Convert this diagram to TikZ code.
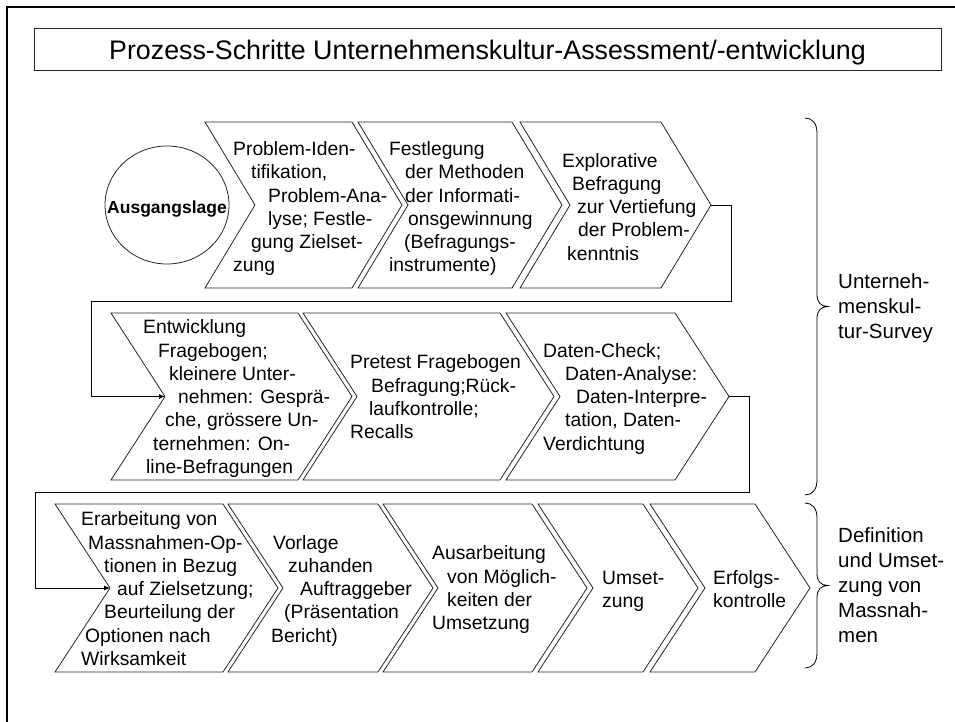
\documentclass[tikz,border=0pt]{standalone}
\usepackage{fontspec}
\setmainfont{Liberation Sans}
\usetikzlibrary{arrows.meta,shapes.geometric}
\newcommand\chl[2]{\strut\hspace*{#1pt}#2}
% name, x left, x right, y top, y bottom, point depth
\newcommand\mkchev[6]{%
  \draw[chevline] (#2,#4) -- (#3,#4) -- ({#3+#6},{(#4+#5)/2}) -- (#3,#5) -- (#2,#5) -- ({#2+#6},{(#4+#5)/2}) -- cycle;
  \coordinate (#1-tip) at ({#3+#6},{(#4+#5)/2});
  \coordinate (#1-notch) at ({#2+#6},{(#4+#5)/2});
}
% name, y top, y bottom
\newcommand\mkbrace[3]{%
  \coordinate (#1-tip) at (828,{(#2+#3)/2});
  \draw[bracel] (805,#2) .. controls (812,#2) and (817,{#2+5}) .. (817,{#2+15})
    -- (817,{(#2+#3)/2-12}) .. controls (817,{(#2+#3)/2-4}) and (821,{(#2+#3)/2}) .. (#1-tip)
    .. controls (821,{(#2+#3)/2}) and (817,{(#2+#3)/2+4}) .. (817,{(#2+#3)/2+12})
    -- (817,{#3-15}) .. controls (817,{#3-5}) and (812,#3) .. (805,#3);
}
\begin{document}
\begin{tikzpicture}[x=1pt,y=-1pt,
  chevline/.style={draw=black!85,line width=0.8pt,line join=miter},
  ctext/.style={anchor=west,inner sep=0pt,align=left,font=\fontsize{19.3}{23.3}\selectfont},
  lbl/.style={anchor=west,inner sep=0pt,align=left,font=\fontsize{20.5}{25}\selectfont},
  conn/.style={draw=black,line width=0.8pt,-{Latex[length=6pt,width=5pt]}},
  bracel/.style={draw=black,line width=0.8pt}]
\useasboundingbox (0,0) rectangle (955,722);
\fill[white] (0,0) rectangle (955,722);
% outer frame (cropped)
\draw[line width=2pt,line join=miter] (7,722) -- (7,7) -- (955,7);
% title
\node[draw=black!85,line width=0.8pt,minimum width=907pt,minimum height=42pt,inner sep=0pt,
  font=\fontsize{26.8}{32}\selectfont,text height=20.6pt,text depth=0pt] (title) at (487.5,49)
  {Prozess-Schritte Unternehmenskultur-Assessment/-entwicklung};
% start ellipse
\node[draw=black!85,line width=0.8pt,ellipse,minimum width=124pt,minimum height=118pt,inner sep=0pt] (start) at (167,205) {};
\node[anchor=base,inner sep=0pt,font=\bfseries\fontsize{17.5}{21}\selectfont] (startt) at (167,213.3) {Ausgangslage};
% row 1
\mkchev{c1}{205}{352}{122}{288}{50}
\mkchev{c2}{358}{512}{122}{288}{50}
\mkchev{c3}{520}{661}{122}{288}{50}
% row 2
\mkchev{c4}{111}{298}{313}{480}{54}
\mkchev{c5}{303}{500}{313}{480}{54}
\mkchev{c6}{506}{675}{313}{480}{54}
% row 3
\mkchev{c7}{55}{223}{504}{672}{55}
\mkchev{c8}{228}{378}{504}{672}{55}
\mkchev{c9}{383}{532}{504}{672}{55}
\mkchev{c10}{538}{643}{504}{672}{55}
\mkchev{c11}{650}{755}{504}{672}{55}
% texts
\node[ctext] (t1) at (233,209) {\chl{0}{Problem-Iden-}\\\chl{18}{tifikation,}\\\chl{35}{Problem-Ana-}\\\chl{35}{lyse; Festle-}\\\chl{18}{gung Zielset-}\\\chl{0}{zung}};
\node[ctext] (t2) at (389,209) {\chl{0}{Festlegung}\\\chl{16}{der Methoden}\\\chl{16}{der Informati-}\\\chl{19}{onsgewinnung}\\\chl{15}{(Befragungs-}\\\chl{0}{instrumente)}};
\node[ctext] (t3) at (562,209) {\chl{0}{Explorative}\\\chl{10}{Befragung}\\\chl{15}{zur Vertiefung}\\\chl{16}{der Problem-}\\\chl{5}{kenntnis}};
\node[ctext] (t4) at (143,399) {\chl{0}{Entwicklung}\\\chl{15}{Fragebogen;}\\\chl{26}{kleinere Unter-}\\\chl{35}{nehmen: Gesprä-}\\\chl{22}{che, grössere Un-}\\\chl{10}{ternehmen: On-}\\\chl{3}{line-Befragungen}};
\node[ctext] (t5) at (350,399) {\chl{0}{Pretest Fragebogen}\\\chl{21}{Befragung;Rück-}\\\chl{19}{laufkontrolle;}\\\chl{0}{Recalls}};
\node[ctext] (t6) at (543,399) {\chl{0}{Daten-Check;}\\\chl{22}{Daten-Analyse:}\\\chl{33}{Daten-Interpre-}\\\chl{22}{tation, Daten-}\\\chl{0}{Verdichtung}};
\node[ctext] (t7) at (81,591) {\chl{0}{Erarbeitung von}\\\chl{7}{Massnahmen-Op-}\\\chl{23}{tionen in Bezug}\\\chl{36}{auf Zielsetzung;}\\\chl{23}{Beurteilung der}\\\chl{4}{Optionen nach}\\\chl{0}{Wirksamkeit}};
\node[ctext] (t8) at (271,591) {\chl{2}{Vorlage}\\\chl{17}{zuhanden}\\\chl{29}{Auftraggeber}\\\chl{13}{(Präsentation}\\\chl{0}{Bericht)}};
\node[ctext] (t9) at (432,590) {\chl{0}{Ausarbeitung}\\\chl{15}{von Möglich-}\\\chl{15}{keiten der}\\\chl{0}{Umsetzung}};
\node[ctext] (t10) at (602,591) {\chl{0}{Umset-}\\\chl{0}{zung}};
\node[ctext] (t11) at (713,591) {\chl{0}{Erfolgs-}\\\chl{0}{kontrolle}};
% loop connectors
\coordinate (b1) at (91,301);
\coordinate (b2) at (35,492);
\draw[conn] (c3-tip) -- ++(20,0) |- (b1) |- (c4-notch);
\draw[conn] (c6-tip) -- ++(20,0) |- (b2) |- (c7-notch);
% braces
\mkbrace{br1}{118}{495}
\mkbrace{br2}{503}{668}
\node[lbl] (s1) at (838,308.5) {\chl{0}{Unterneh-}\\\chl{0}{menskul-}\\\chl{0}{tur-Survey}};
\node[lbl] (s2) at (838,587) {\chl{0}{Definition}\\\chl{0}{und Umset-}\\\chl{0}{zung von}\\\chl{0}{Massnah-}\\\chl{0}{men}};
\end{tikzpicture}
\end{document}
